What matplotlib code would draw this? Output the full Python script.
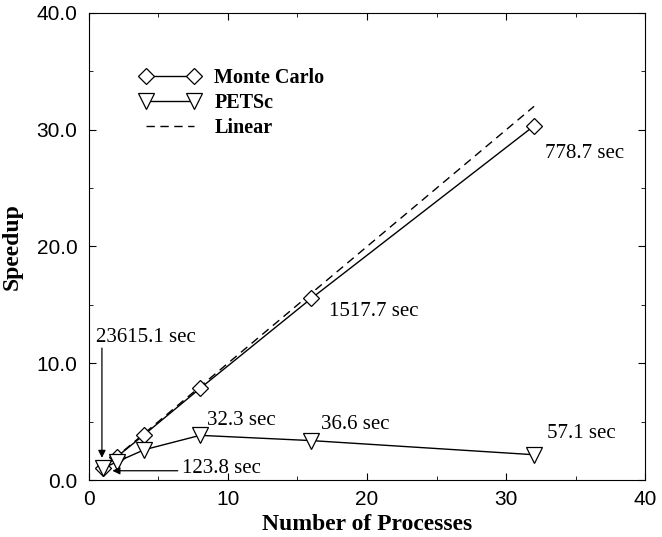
import matplotlib
matplotlib.use("Agg")
import matplotlib.pyplot as plt
from matplotlib.ticker import MultipleLocator, FormatStrFormatter

procs = [1, 2, 4, 8, 16, 32]
monte_carlo = [1.0, 1.97, 3.9, 7.85, 15.56, 30.33]
petsc = [1.0, 1.55, 2.6, 3.83, 3.38, 2.17]
linear = [1, 32]

# timing labels: text and where its left/centre sits
labels = [
    ("23615.1 sec", 0.55, 12.2),
    ("123.8 sec", 6.7, 0.95),
    ("32.3 sec", 8.5, 5.1),
    ("36.6 sec", 16.7, 4.8),
    ("57.1 sec", 32.9, 4.0),
    ("1517.7 sec", 17.3, 14.4),
    ("778.7 sec", 32.8, 28.0),
]
# arrows: tail, head
arrows = [
    ((0.95, 11.3), (0.95, 1.9)),
    ((6.4, 0.8), (1.7, 0.8)),
]

serif = ["Liberation Serif", "DejaVu Serif"]
sans = ["Liberation Sans", "DejaVu Sans"]

fig = plt.figure(figsize=(6.62, 5.37), dpi=100)
ax = fig.add_axes([0.134, 0.106, 0.841, 0.870])

ax.plot(procs, monte_carlo, color="black", lw=1, marker="D", ms=8,
        mfc="white", mec="black", mew=0.9, label="Monte Carlo", zorder=3)
ax.plot(procs, petsc, color="black", lw=1, marker="v", ms=11,
        mfc="white", mec="black", mew=0.9, label="PETSc", zorder=3)
ax.plot(linear, linear, color="black", lw=1, ls=(0, (6, 4)), label="Linear")

for txt, x, y in labels:
    ax.text(x, y, txt, family=serif, fontsize=15, va="center", ha="left")

for tail, head in arrows:
    ax.annotate("", xy=head, xytext=tail,
                arrowprops=dict(arrowstyle="-|>", color="black", lw=0.9,
                                shrinkA=0, shrinkB=0, mutation_scale=11))

ax.set_xlim(0, 40)
ax.set_ylim(0, 40)
ax.xaxis.set_major_locator(MultipleLocator(10))
ax.xaxis.set_minor_locator(MultipleLocator(5))
ax.yaxis.set_major_locator(MultipleLocator(10))
ax.yaxis.set_minor_locator(MultipleLocator(5))
ax.yaxis.set_major_formatter(FormatStrFormatter("%.1f"))
ax.tick_params(which="both", direction="in", top=True, right=True)
ax.tick_params(which="major", length=5, labelsize=15)
ax.tick_params(axis="y", pad=8)
ax.tick_params(axis="x", pad=7)
ax.tick_params(which="minor", length=3)
for lab in ax.get_xticklabels() + ax.get_yticklabels():
    lab.set_family(sans)

ax.set_xlabel("Number of Processes", family=serif, fontsize=17,
              fontweight="bold", labelpad=4)
ax.set_ylabel("Speedup", family=serif, fontsize=17, fontweight="bold",
              labelpad=10)

ax.legend(loc="upper left", bbox_to_anchor=(0.092, 0.883), frameon=False,
          numpoints=2, handlelength=3.0, handletextpad=0.7, labelspacing=0.25,
          borderpad=0, borderaxespad=0,
          prop=dict(family=serif, size=14.5, weight="bold"))

fig.savefig("out.png", dpi=100)
